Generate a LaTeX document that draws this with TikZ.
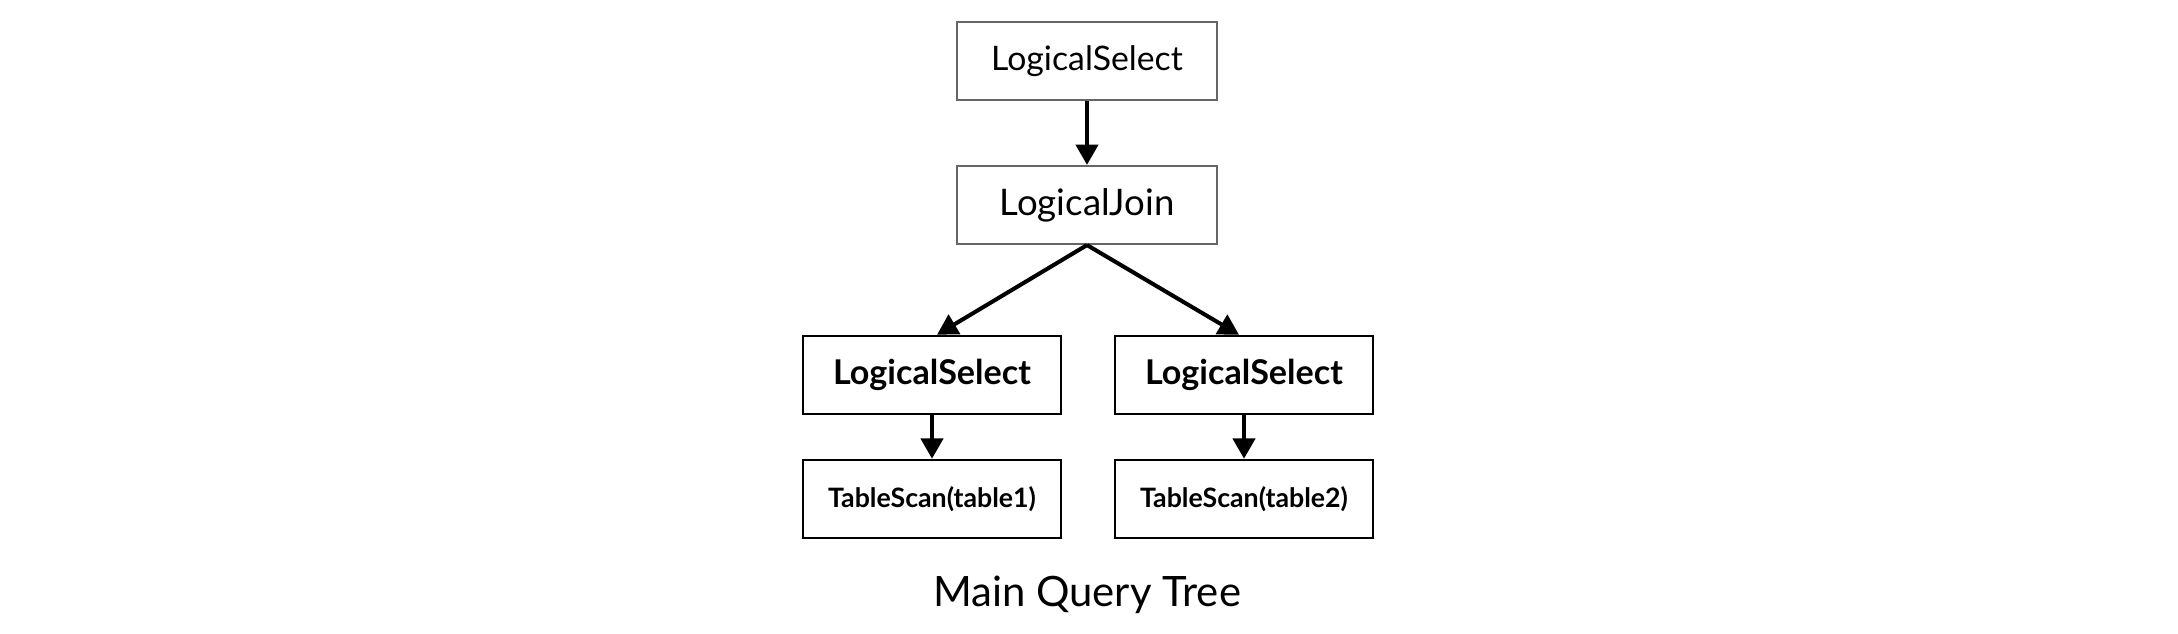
\documentclass[tikz,border=0pt]{standalone}
\usepackage{fontspec}
\setmainfont{Lato}
\usetikzlibrary{arrows.meta}
\begin{document}
\begin{tikzpicture}[x=0.01cm, y=-0.01cm, -{Triangle[length=5.8pt,width=6.3pt]}, line width=1.15pt,
  plan node/.style={rectangle,draw=black!60,line width=0.6pt,minimum width=2.6cm,minimum height=0.78cm,inner sep=0pt,font=\fontsize{9.6}{11}\selectfont},
  sub node/.style={rectangle,draw=black,line width=0.7pt,minimum width=2.58cm,minimum height=0.78cm,inner sep=0pt,font=\bfseries\fontsize{9.7}{11}\selectfont}]
\useasboundingbox (0,0) rectangle (2178,634);
\begin{scope}
\node[plan node] (sel) at (1087,61) {LogicalSelect};%top
\node[plan node,font=\fontsize{10.4}{12}\selectfont] (join) at (1087,205) {LogicalJoin};
\node[sub node] (sel1) at (932,375) {LogicalSelect};%left
\node[sub node] (sel2) at (1244,375) {LogicalSelect};%right
\node[sub node,font=\bfseries\fontsize{7.6}{9}\selectfont] (scan1) at (932,499) {TableScan(table1)};
\node[sub node,font=\bfseries\fontsize{7.6}{9}\selectfont] (scan2) at (1244,499) {TableScan(table2)};
\node[font=\fontsize{11.9}{14}\selectfont] (title) at (1087,595) {Main Query Tree};
\end{scope}
\begin{scope}
\path (sel) edge (join);
\path (join.south) edge ([xshift=0.05cm]sel1.north);
\path (join.south) edge ([xshift=-0.05cm]sel2.north);
\path (sel1) edge (scan1);
\path (sel2) edge (scan2);
\end{scope}
\end{tikzpicture}
\end{document}
